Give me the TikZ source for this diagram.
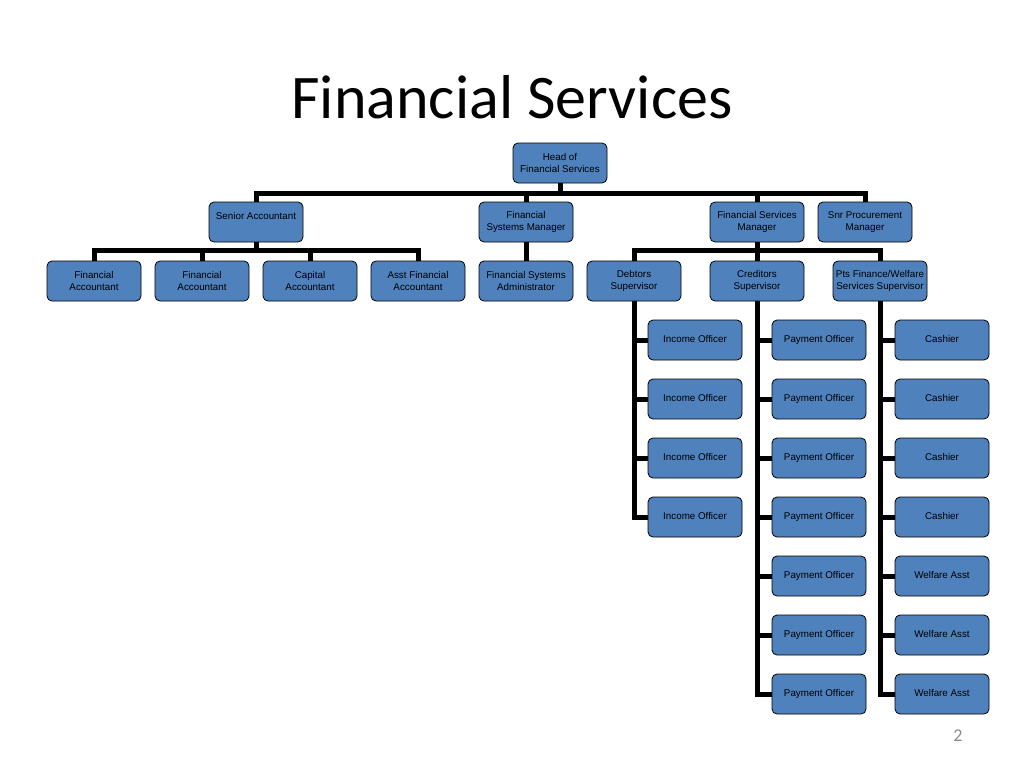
\documentclass[tikz,border=0pt]{standalone}
\usepackage{fontspec}
\setmainfont{Carlito}
\newfontfamily\boxfont{Liberation Sans}
\usepackage{tikz}
\usetikzlibrary{positioning}
\usepackage{xcolor}
\definecolor{officeblue}{RGB}{79,129,189}
\definecolor{slidegray}{RGB}{137,137,137}

\begin{document}
\begin{tikzpicture}[
    x=1pt, y=-1pt,
    node distance=18.2pt and 14pt,
    box/.style={rectangle, rounded corners=5pt, draw=black, line width=0.8pt,
                fill=officeblue, minimum height=40pt, minimum width=94pt,
                inner sep=1pt, align=center, font=\boxfont\fontsize{9.8}{11.5}\selectfont},
    single/.style={box, text height=7.2pt, text depth=2pt},
    link/.style={line width=5pt, draw=black},
]
    \useasboundingbox (0,0) rectangle (1024,768);

    % Title
    \node[anchor=base, font=\fontsize{62}{70}\selectfont] (title) at (512,118) {Financial Services};
    \node[anchor=base, font=\fontsize{18}{20}\selectfont, text=slidegray] (page) at (958,741) {2};

    % Head
    \node[box] (head) at (560,163) {Head of\\Financial Services};

    % Row 2: managers
    \node[box] (sa) at (256,222) {Senior Accountant\\~};
    \node[box] (fsm) at (526,222) {Financial\\Systems Manager};
    \node[box] (fsmgr) at (757,222) {Financial Services\\Manager};
    \node[box] (snr) at (865,222) {Snr Procurement\\Manager};

    % Row 3
    \node[box] (fa1) at (94,281) {Financial\\Accountant};
    \node[box] (fa2) at (202,281) {Financial\\Accountant};
    \node[box] (cap) at (310,281) {Capital\\Accountant};
    \node[box] (asst) at (418,281) {Asst Financial\\Accountant};
    \node[box] (adm) at (526,281) {Financial Systems\\Administrator};
    \node[box] (debt) at (634,281) {Debtors\\Supervisor};
    \node[box] (cred) at (757,281) {Creditors\\Supervisor};
    \node[box] (pts) at (880,281) {Pts Finance/Welfare\\Services Supervisor};

    % Debtors column
    \node[single] (io1) at (695,340) {Income Officer};
    \node[single, below=of io1] (io2) {Income Officer};
    \node[single, below=of io2] (io3) {Income Officer};
    \node[single, below=of io3] (io4) {Income Officer};

    % Creditors column
    \node[single] (po1) at (819,340) {Payment Officer};
    \node[single, below=of po1] (po2) {Payment Officer};
    \node[single, below=of po2] (po3) {Payment Officer};
    \node[single, below=of po3] (po4) {Payment Officer};
    \node[single, below=of po4] (po5) {Payment Officer};
    \node[single, below=of po5] (po6) {Payment Officer};
    \node[single, below=of po6] (po7) {Payment Officer};

    % Pts column
    \node[single] (ca1) at (942,340) {Cashier};
    \node[single, below=of ca1] (ca2) {Cashier};
    \node[single, below=of ca2] (ca3) {Cashier};
    \node[single, below=of ca3] (ca4) {Cashier};
    \node[single, below=of ca4] (wa1) {Welfare Asst};
    \node[single, below=of wa1] (wa2) {Welfare Asst};
    \node[single, below=of wa2] (wa3) {Welfare Asst};

    % Wiring: head to managers
    \draw[link] (head.south) -- ++(0,10) -| (sa.north);
    \draw[link] (head.south) -- ++(0,10) -| (fsm.north);
    \draw[link] (head.south) -- ++(0,10) -| (fsmgr.north);
    \draw[link] (head.south) -- ++(0,10) -| (snr.north);

    % Senior Accountant team
    \draw[link] (sa.south) -- ++(0,8) -| (fa1.north);
    \draw[link] (sa.south) -- ++(0,8) -| (fa2.north);
    \draw[link] (sa.south) -- ++(0,8) -| (cap.north);
    \draw[link] (sa.south) -- ++(0,8) -| (asst.north);
    \draw[link] (fsm.south) -- (adm.north);

    % Financial Services Manager team
    \draw[link] (fsmgr.south) -- ++(0,8) -| (debt.north);
    \draw[link] (fsmgr.south) -- (cred.north);
    \draw[link] (fsmgr.south) -- ++(0,8) -| (pts.north);

    % Columns
    \draw[link] (debt.south) |- (io1.west);
    \draw[link] (debt.south) |- (io2.west);
    \draw[link] (debt.south) |- (io3.west);
    \draw[link] (debt.south) |- (io4.west);
    \draw[link] (cred.south) |- (po1.west);
    \draw[link] (cred.south) |- (po2.west);
    \draw[link] (cred.south) |- (po3.west);
    \draw[link] (cred.south) |- (po4.west);
    \draw[link] (cred.south) |- (po5.west);
    \draw[link] (cred.south) |- (po6.west);
    \draw[link] (cred.south) |- (po7.west);
    \draw[link] (pts.south) |- (ca1.west);
    \draw[link] (pts.south) |- (ca2.west);
    \draw[link] (pts.south) |- (ca3.west);
    \draw[link] (pts.south) |- (ca4.west);
    \draw[link] (pts.south) |- (wa1.west);
    \draw[link] (pts.south) |- (wa2.west);
    \draw[link] (pts.south) |- (wa3.west);
\end{tikzpicture}
\end{document}
